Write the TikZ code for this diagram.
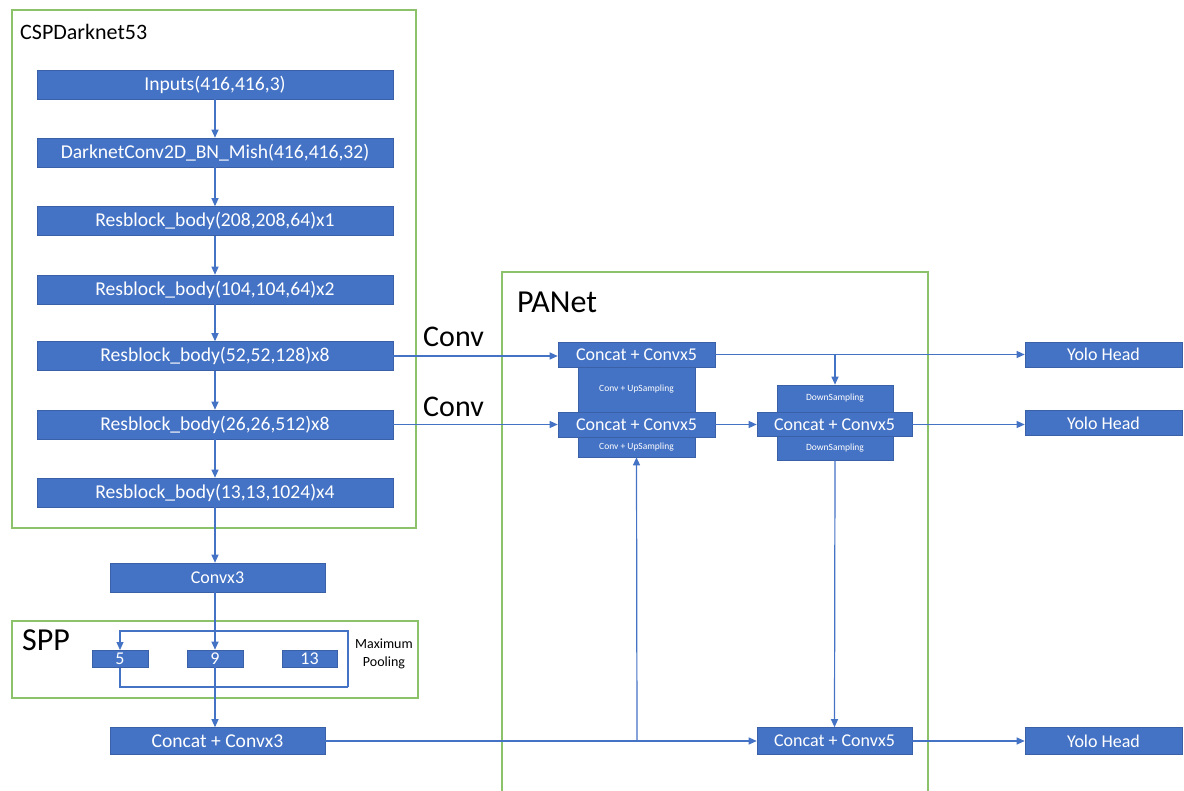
\documentclass[tikz,border=0pt]{standalone}
\usepackage{fontspec}
\setmainfont{Carlito}
\usetikzlibrary{arrows.meta}
\definecolor{bblue}{HTML}{4472C4}
\definecolor{ggreen}{HTML}{8CC26A}
\begin{document}
\begin{tikzpicture}[x=1pt,y=-1pt,
  blk/.style={fill=bblue, draw=bblue!85!black, line width=0.6pt, text=white, inner sep=0pt, font=\fontsize{18}{18}\selectfont},
  bigblk/.style={blk, font=\fontsize{19.6}{20}\selectfont},
  subblk/.style={blk, font=\fontsize{9.5}{10}\selectfont},
  grp/.style={draw=ggreen, line width=1.5pt},
  conn/.style={draw=bblue, line width=1.2pt},
  arr/.style={conn, -{Triangle[length=8pt,width=7pt]}},
  lbl/.style={text=black, inner sep=0pt, anchor=base west}
]
\useasboundingbox (0,0) rectangle (1184,791);
% group frames
\draw[grp] (12,10) rectangle (416,528);
\draw[grp] (12,621) rectangle (418,698);
\draw[grp] (502,791) -- (502,272) -- (928,272) -- (928,791);
% titles
\node[lbl, font=\fontsize{22}{22}\selectfont] (tcsp) at (20,40) {CSPDarknet53};
\node[lbl, font=\fontsize{32}{32}\selectfont] (tspp) at (22,650) {SPP};
\node[lbl, font=\fontsize{32}{32}\selectfont] (tpan) at (517,313) {PANet};
\node[lbl, font=\fontsize{30}{30}\selectfont] (tconv1) at (423,347) {Conv};
\node[lbl, font=\fontsize{30}{30}\selectfont] (tconv2) at (423,417) {Conv};
% backbone
\node[bigblk, minimum width=356pt, minimum height=29pt] (in) at (215,84.5) {Inputs(416,416,3)};
\node[bigblk, minimum width=356pt, minimum height=29pt] (dk) at (215,152.5) {DarknetConv2D\_BN\_Mish(416,416,32)};
\node[bigblk, minimum width=356pt, minimum height=29pt] (r208) at (215,221) {Resblock\_body(208,208,64)x1};
\node[bigblk, minimum width=356pt, minimum height=29pt] (r104) at (215,289.5) {Resblock\_body(104,104,64)x2};
\node[bigblk, minimum width=356pt, minimum height=29pt] (r52) at (215,356) {Resblock\_body(52,52,128)x8};
\node[bigblk, minimum width=356pt, minimum height=29pt] (r26) at (215,424.5) {Resblock\_body(26,26,512)x8};
\node[bigblk, minimum width=356pt, minimum height=29pt] (r13) at (215,492.5) {Resblock\_body(13,13,1024)x4};
\node[blk, minimum width=215pt, minimum height=29pt] (cv3) at (217.5,577.5) {Convx3};
% SPP
\coordinate (lt) at (120,631);
\coordinate (rt) at (348,631);
\coordinate (rb) at (348,687);
\coordinate (lb) at (120,687);
\draw[arr] (rb) -- (rt) -- (lt) -- (120,650);
\draw[conn] (120,667) -- (lb) -- (rb);
\node[blk, minimum width=56pt, minimum height=17pt] (p5) at (120,658.5) {5};
\node[blk, minimum width=56pt, minimum height=17pt] (p9) at (215,658.5) {9};
\node[blk, minimum width=55pt, minimum height=17pt] (p13) at (309.5,658.5) {13};
\node[align=center, inner sep=0pt, font=\fontsize{14}{18}\selectfont] (mp) at (384,654) {Maximum\\Pooling};
\node[bigblk, minimum width=215pt, minimum height=27pt] (cc3) at (217.5,741) {Concat + Convx3};
% PANet
\node[subblk, minimum width=117pt, minimum height=46pt] (up1) at (636.5,389.5) {Conv + UpSampling};
\node[subblk, minimum width=117pt, minimum height=20pt] (up2) at (636.5,447) {Conv + UpSampling};
\node[subblk, minimum width=116pt, minimum height=27pt] (d1) at (835,398.5) {DownSampling};
\node[subblk, minimum width=116pt, minimum height=24pt] (d2) at (835,448) {DownSampling};
\node[blk, minimum width=157pt, minimum height=25pt] (c1) at (636.5,354.5) {Concat + Convx5};
\node[blk, minimum width=157pt, minimum height=25pt] (c2) at (636.5,424.5) {Concat + Convx5};
\node[blk, minimum width=155pt, minimum height=24pt] (c3) at (834.5,424.5) {Concat + Convx5};
\node[blk, minimum width=155pt, minimum height=27pt] (c4) at (834.5,741) {Concat + Convx5};
% heads
\node[blk, minimum width=157pt, minimum height=25pt] (y1) at (1103.5,354.5) {Yolo Head};
\node[blk, minimum width=157pt, minimum height=25pt] (y2) at (1103.5,423) {Yolo Head};
\node[blk, minimum width=157pt, minimum height=27pt] (y3) at (1103.5,741) {Yolo Head};
% connectors
\draw[arr] (in.south) -- (dk.north);
\draw[arr] (dk.south) -- (r208.north);
\draw[arr] (r208.south) -- (r104.north);
\draw[arr] (r104.south) -- (r52.north);
\draw[arr] (r52.south) -- (r26.north);
\draw[arr] (r26.south) -- (r13.north);
\draw[arr] (r13.south) -- (r13.south |- cv3.north);
\draw[arr] (r13.south |- cv3.south) -- (p9.north);
\draw[arr] (p9.south) -- (p9.south |- cc3.north);
\draw[arr] (r52.east) -- (r52.east -| c1.west);
\draw[arr] (r26.east) -- (r26.east -| c2.west);
\draw[arr] (c1.east) -- (y1.west);
\coordinate (j1) at (835,354.5);
\draw[arr] (j1) -- (d1.north);
\draw[arr] (c2.east) -- (c3.west);
\draw[arr] (c3.east) -- (c3.east -| y2.west);
\draw[arr] (d2.south) -- (c4.north);
\draw[arr] (cc3.east) -- (c4.west);
\coordinate (j2) at (637,741);
\draw[arr] (j2) -- (up2.south);
\draw[arr] (c4.east) -- (y3.west);
\end{tikzpicture}
\end{document}
